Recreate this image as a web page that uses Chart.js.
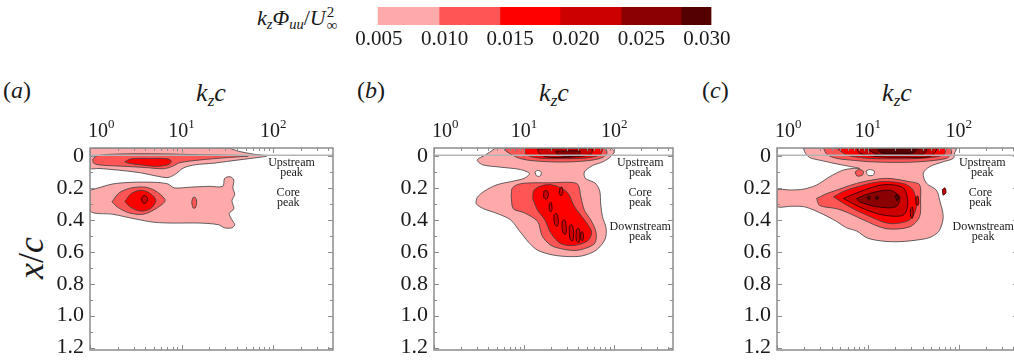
<!DOCTYPE html>
<html>
<head>
<meta charset="utf-8">
<script src="https://cdn.jsdelivr.net/npm/chart.js@4.4.1/dist/chart.umd.min.js"></script>
<style>
  body { margin: 0; width: 1014px; height: 360px; overflow: hidden; background: #fff; font-family: "Liberation Serif", serif; }
  canvas { position: absolute; }
  .t { position: absolute; white-space: nowrap; line-height: 1; color: #1a1a1a; }
  .t sub { font-size: 0.66em; line-height: 0; vertical-align: -0.3em; }
  .ss { display: inline-block; font-size: 15px; line-height: 13px; vertical-align: -5px; margin-left: 1px; }
  .ss span { display: block; }
</style>
</head>
<body>
<div class="t" style="left:257px;top:6px;font-size:22px"><i>k</i><sub><i>z</i></sub><i>Φ</i><sub><i>uu</i></sub>/<i>U</i><span class="ss"><span>2</span><span>∞</span></span></div>
<canvas id="colorbar" width="410" height="60" style="left:340px;top:0px"></canvas>

<div class="t" style="left:3px;top:78px;font-size:24px">(<i>a</i>)</div>
<div class="t" style="left:357px;top:78px;font-size:24px">(<i>b</i>)</div>
<div class="t" style="left:702px;top:78px;font-size:24px">(<i>c</i>)</div>

<div class="t" style="left:211px;top:80px;font-size:26px;transform:translateX(-50%)"><i>k</i><sub><i>z</i></sub><i>c</i></div>
<div class="t" style="left:554px;top:80px;font-size:26px;transform:translateX(-50%)"><i>k</i><sub><i>z</i></sub><i>c</i></div>
<div class="t" style="left:897px;top:80px;font-size:26px;transform:translateX(-50%)"><i>k</i><sub><i>z</i></sub><i>c</i></div>

<div class="t" style="left:31px;top:258px;font-size:36px;transform:translate(-50%,-50%) rotate(-90deg)"><i>x</i>/<i>c</i></div>

<canvas id="panelA" width="309" height="258" style="left:30px;top:108px"></canvas>
<canvas id="panelB" width="305" height="258" style="left:374px;top:108px"></canvas>
<canvas id="panelC" width="307" height="258" style="left:717px;top:108px"></canvas>

<script>
// contour level colours (index 0 = white hole), same as the colour bar
const levelColors = ["#ffffff", "#ffaaaa", "#ff5555", "#ff0000", "#cc0000", "#8b0000", "#550000"];
const colorbarEdges = [0.00493, 0.00958, 0.01422, 0.0188, 0.02345, 0.02802, 0.03031];
const colorbarTicks = [0.005, 0.010, 0.015, 0.020, 0.025, 0.030];

const xTicks = [1, 10, 100];
const xMinorTicks = [2, 3, 4, 5, 6, 7, 8, 9, 20, 30, 40, 50, 60, 70, 80, 90, 200, 300, 400];
const yTicks = [0, 0.2, 0.4, 0.6, 0.8, 1.0, 1.2];
const yMinorTicks = [0.1, 0.3, 0.5, 0.7, 0.9, 1.1];

// contour regions: [log10(kz c), x/c] outlines, drawn bottom to top
const panelA = [
  { level: 1, pts: [[0,-0.05],[0.5,-0.05],[1.0,-0.05],[1.5,-0.05],[1.62,-0.03],[1.78,-0.012],[1.93,0.0],[1.8,0.012],[1.55,0.03],[1.35,0.045],[1.15,0.055],[1.02,0.075],[0.93,0.115],[0.85,0.135],[0.72,0.125],[0.55,0.105],[0.3,0.088],[0.1,0.078],[0,0.075]] },
  { level: 2, pts: [[0.03,0.02],[0.08,-0.002],[0.3,-0.012],[0.6,-0.014],[0.9,-0.012],[1.2,-0.008],[1.5,-0.005],[1.73,0.0],[1.5,0.01],[1.2,0.025],[0.98,0.042],[0.9,0.065],[0.8,0.08],[0.6,0.072],[0.35,0.064],[0.12,0.057],[0.04,0.045]] },
  { level: 3, pts: [[0.38,0.035],[0.45,0.018],[0.65,0.015],[0.85,0.018],[0.89,0.035],[0.85,0.055],[0.72,0.065],[0.55,0.055],[0.42,0.045]] },
  { level: 1, pts: [[0,0.215],[0.12,0.195],[0.25,0.175],[0.45,0.165],[0.7,0.165],[0.85,0.175],[0.92,0.2],[1.1,0.195],[1.3,0.19],[1.45,0.19],[1.47,0.14],[1.53,0.13],[1.57,0.15],[1.56,0.2],[1.58,0.24],[1.55,0.28],[1.57,0.33],[1.52,0.36],[1.55,0.4],[1.58,0.43],[1.55,0.45],[1.47,0.45],[1.4,0.43],[1.2,0.42],[0.9,0.42],[0.7,0.415],[0.5,0.395],[0.25,0.365],[0,0.345]] },
  { level: 2, pts: [[0.24,0.287],[0.32,0.23],[0.45,0.2],[0.6,0.195],[0.72,0.22],[0.82,0.278],[0.72,0.33],[0.58,0.365],[0.42,0.355],[0.3,0.32]] },
  { level: 3, pts: [[0.38,0.285],[0.45,0.235],[0.56,0.215],[0.66,0.235],[0.72,0.28],[0.66,0.33],[0.55,0.345],[0.44,0.32]] },
  { level: 4, pts: [[0.56,0.27],[0.58,0.25],[0.61,0.25],[0.63,0.27],[0.61,0.295],[0.58,0.295]] },
  { level: 2, pts: [[1.11,0.29],[1.125,0.26],[1.15,0.26],[1.165,0.29],[1.15,0.325],[1.125,0.325]] }
];

const panelB = [
  { level: 1, pts: [[0.685,-0.05],[1.2,-0.05],[1.6,-0.05],[1.955,-0.05],[2.0,-0.03],[1.97,0.0],[1.88,0.035],[1.76,0.06],[1.67,0.1],[1.68,0.14],[1.79,0.17],[1.84,0.22],[1.85,0.3],[1.87,0.38],[1.91,0.45],[1.9,0.52],[1.8,0.59],[1.65,0.625],[1.5,0.63],[1.32,0.62],[1.15,0.59],[1.05,0.54],[0.95,0.47],[0.85,0.4],[0.7,0.36],[0.55,0.33],[0.47,0.3],[0.48,0.26],[0.56,0.22],[0.7,0.18],[0.86,0.16],[1.0,0.14],[1.06,0.11],[0.96,0.085],[0.74,0.07],[0.54,0.055],[0.48,0.025],[0.57,-0.006]] },
  { level: 0, pts: [[1.12,0.1],[1.15,0.09],[1.19,0.1],[1.18,0.125],[1.14,0.125]] },
  { level: 2, pts: [[0.78,-0.05],[1.89,-0.05],[1.92,-0.017],[1.86,0.012],[1.7,0.03],[1.41,0.038],[1.1,0.03],[0.95,0.015],[0.87,-0.006],[0.8,-0.03]] },
  { level: 3, pts: [[1.0,-0.05],[1.86,-0.05],[1.85,-0.01],[1.7,0.012],[1.4,0.017],[1.15,0.012],[1.02,-0.01]] },
  { level: 4, pts: [[1.15,-0.045],[1.75,-0.045],[1.74,-0.01],[1.5,0.008],[1.25,0.006],[1.17,-0.015]] },
  { level: 5, pts: [[1.35,-0.03],[1.62,-0.03],[1.6,-0.005],[1.45,0.002],[1.37,-0.01]] },
  { level: 2, pts: [[0.857,0.25],[0.87,0.2],[0.95,0.175],[1.11,0.168],[1.3,0.168],[1.52,0.165],[1.6,0.18],[1.63,0.256],[1.67,0.34],[1.74,0.4],[1.8,0.48],[1.78,0.55],[1.6,0.59],[1.45,0.585],[1.3,0.56],[1.2,0.5],[1.15,0.41],[1.0,0.355],[0.88,0.33]] },
  { level: 3, pts: [[1.095,0.266],[1.11,0.214],[1.2,0.185],[1.3,0.18],[1.41,0.2],[1.49,0.235],[1.56,0.318],[1.67,0.4],[1.75,0.475],[1.71,0.53],[1.56,0.56],[1.41,0.55],[1.3,0.486],[1.23,0.4],[1.15,0.34]] },
  { level: 4, pts: [[1.22,0.22],[1.25,0.215],[1.27,0.24],[1.25,0.27],[1.22,0.26]] },
  { level: 4, pts: [[1.28,0.3],[1.3,0.29],[1.31,0.33],[1.3,0.35],[1.28,0.34]] },
  { level: 4, pts: [[1.33,0.37],[1.36,0.36],[1.38,0.4],[1.37,0.44],[1.34,0.43]] },
  { level: 4, pts: [[1.42,0.41],[1.45,0.40],[1.47,0.45],[1.46,0.49],[1.43,0.48]] },
  { level: 4, pts: [[1.5,0.44],[1.53,0.43],[1.55,0.48],[1.54,0.53],[1.51,0.52]] },
  { level: 4, pts: [[1.58,0.46],[1.61,0.455],[1.62,0.5],[1.61,0.54],[1.58,0.53]] },
  { level: 4, pts: [[1.63,0.48],[1.65,0.475],[1.66,0.51],[1.65,0.53],[1.63,0.52]] },
  { level: 4, pts: [[1.4,0.2],[1.42,0.195],[1.43,0.23],[1.41,0.25],[1.39,0.23]] }
];

const panelC = [
  { level: 1, pts: [[0.29,-0.05],[1.0,-0.05],[1.5,-0.05],[1.975,-0.05],[1.956,-0.02],[1.94,0.015],[1.83,0.036],[1.68,0.067],[1.61,0.109],[1.645,0.17],[1.755,0.214],[1.79,0.276],[1.83,0.38],[1.79,0.465],[1.72,0.5],[1.645,0.517],[1.4,0.535],[1.2,0.535],[1.0,0.515],[0.877,0.47],[0.766,0.45],[0.656,0.41],[0.47,0.355],[0.3,0.318],[0.15,0.315],[0,0.315],[0,0.215],[0.15,0.213],[0.29,0.208],[0.436,0.182],[0.58,0.13],[0.73,0.088],[0.84,0.078],[0.91,0.078],[0.8,0.065],[0.66,0.05],[0.5,0.03],[0.36,0.01],[0.31,-0.02]] },
  { level: 0, pts: [[0.98,0.095],[1.02,0.085],[1.07,0.095],[1.06,0.12],[1.0,0.12]] },
  { level: 2, pts: [[0.86,0.1],[0.9,0.085],[0.95,0.095],[0.94,0.12],[0.88,0.125]] },
  { level: 4, pts: [[1.82,0.21],[1.85,0.2],[1.86,0.23],[1.83,0.245]] },
  { level: 2, pts: [[0.51,-0.05],[1.9,-0.05],[1.92,-0.017],[1.865,0.015],[1.57,0.036],[1.3,0.04],[1.02,0.036],[0.8,0.025],[0.656,0.015],[0.55,-0.01]] },
  { level: 3, pts: [[0.656,-0.05],[1.85,-0.05],[1.83,-0.006],[1.57,0.015],[1.3,0.018],[1.02,0.015],[0.8,0.0],[0.73,-0.017]] },
  { level: 4, pts: [[0.876,-0.05],[1.755,-0.05],[1.68,0.004],[1.4,0.008],[1.1,0.004],[0.91,-0.017]] },
  { level: 5, pts: [[0.986,-0.05],[1.645,-0.05],[1.61,-0.01],[1.35,-0.005],[1.1,-0.01]] },
  { level: 6, pts: [[1.1,-0.05],[1.535,-0.05],[1.5,-0.02],[1.3,-0.015],[1.15,-0.02]] },
  { level: 2, pts: [[0.436,0.266],[0.55,0.235],[0.656,0.214],[0.8,0.185],[0.95,0.161],[1.205,0.14],[1.46,0.161],[1.57,0.18],[1.58,0.276],[1.57,0.38],[1.46,0.444],[1.2,0.455],[0.95,0.40],[0.8,0.36],[0.656,0.33],[0.47,0.31]] },
  { level: 3, pts: [[0.62,0.256],[0.72,0.225],[0.84,0.2],[1.13,0.161],[1.39,0.172],[1.5,0.214],[1.535,0.318],[1.46,0.40],[1.24,0.423],[0.986,0.37],[0.766,0.308]] },
  { level: 4, pts: [[1.47,0.33],[1.49,0.32],[1.5,0.36],[1.49,0.39],[1.47,0.38]] },
  { level: 4, pts: [[1.53,0.26],[1.55,0.25],[1.56,0.29],[1.55,0.31],[1.53,0.3]] },
  { level: 4, pts: [[0.73,0.266],[0.91,0.224],[1.17,0.18],[1.39,0.2],[1.44,0.297],[1.39,0.37],[1.17,0.37],[0.95,0.33]] },
  { level: 5, pts: [[0.876,0.266],[1.02,0.235],[1.24,0.214],[1.35,0.256],[1.31,0.318],[1.1,0.318],[0.91,0.287]] },
  { level: 6, pts: [[0.99,0.26],[1.01,0.25],[1.03,0.26],[1.01,0.275]] },
  { level: 6, pts: [[1.08,0.26],[1.1,0.25],[1.12,0.26],[1.1,0.275]] },
  { level: 6, pts: [[1.3,0.25],[1.32,0.24],[1.34,0.26],[1.32,0.28]] }
];

// peak labels: text lines, log10(kz c), x/c of the label centre
const notesA = [
  { lines: ["Upstream", "peak"], lk: 2.2, y: 0.075 },
  { lines: ["Core", "peak"], lk: 2.165, y: 0.264 }
];
const notesB = [
  { lines: ["Upstream", "peak"], lk: 2.29, y: 0.075 },
  { lines: ["Core", "peak"], lk: 2.29, y: 0.264 },
  { lines: ["Downstream", "peak"], lk: 2.29, y: 0.477 }
];
const notesC = [
  { lines: ["Upstream", "peak"], lk: 2.26, y: 0.075 },
  { lines: ["Core", "peak"], lk: 2.24, y: 0.264 },
  { lines: ["Downstream", "peak"], lk: 2.27, y: 0.477 }
];

const serif = '"Liberation Serif", serif';

const framePlugin = {
  id: "frame",
  afterDatasetsDraw(chart) {
    const { ctx, chartArea: a, scales: { x, y } } = chart;
    ctx.save();
    // grey line at x/c = 0
    const y0 = y.getPixelForValue(-0.005);
    ctx.strokeStyle = "#b4b4b4";
    ctx.lineWidth = 1.5;
    ctx.beginPath();
    ctx.moveTo(a.left, y0);
    ctx.lineTo(a.right, y0);
    ctx.stroke();

    // inward ticks on all four sides
    ctx.strokeStyle = "#8c8c8c";
    ctx.lineWidth = 1;
    ctx.beginPath();
    xTicks.concat(xMinorTicks).forEach((v) => {
      const px = Math.round(x.getPixelForValue(v)) + 0.5;
      const len = xTicks.includes(v) ? 5 : 3;
      ctx.moveTo(px, a.top); ctx.lineTo(px, a.top + len);
      ctx.moveTo(px, a.bottom); ctx.lineTo(px, a.bottom - len);
    });
    yTicks.concat(yMinorTicks).forEach((v) => {
      const py = Math.round(y.getPixelForValue(v)) + 0.5;
      const len = yTicks.includes(v) ? 5 : 3;
      ctx.moveTo(a.left, py); ctx.lineTo(a.left + len, py);
      ctx.moveTo(a.right, py); ctx.lineTo(a.right - len, py);
    });
    ctx.stroke();

    ctx.strokeStyle = "#8c8c8c";
    ctx.lineWidth = 1.5;
    ctx.strokeRect(a.left, a.top, a.right - a.left, a.bottom - a.top);
    ctx.restore();
  },
  afterDraw(chart, args, opts) {
    const { ctx, chartArea: a, scales: { x, y } } = chart;
    ctx.save();
    ctx.fillStyle = "#1a1a1a";
    ctx.textAlign = "left";
    ctx.textBaseline = "alphabetic";
    // 10^n labels above the frame
    xTicks.forEach((v) => {
      const exp = String(Math.round(Math.log10(v)));
      ctx.font = "20px " + serif;
      const wb = ctx.measureText("10").width;
      ctx.font = "13px " + serif;
      const we = ctx.measureText(exp).width;
      let left = x.getPixelForValue(v) - (wb + we) / 2;
      left = Math.max(left, a.left - 2);
      ctx.font = "20px " + serif;
      ctx.fillText("10", left, a.top - 11);
      ctx.font = "13px " + serif;
      ctx.fillText(exp, left + wb, a.top - 20);
    });
    // peak labels
    ctx.font = "12px " + serif;
    ctx.textAlign = "center";
    ctx.textBaseline = "middle";
    (opts.notes || []).forEach((n) => {
      const cx = x.getPixelForValue(Math.pow(10, n.lk));
      const cy = y.getPixelForValue(n.y);
      n.lines.forEach((line, i) => {
        ctx.fillText(line, cx, cy + (i - (n.lines.length - 1) / 2) * 10);
      });
    });
    ctx.restore();
  }
};

function makePanel(id, regions, notes) {
  const datasets = regions.map((r, i) => ({
    data: r.pts.concat([r.pts[0]]).map((p) => ({ x: Math.pow(10, p[0]), y: p[1] })),
    showLine: true,
    fill: "shape",
    backgroundColor: levelColors[r.level],
    borderColor: r.level >= 4 ? "#1a0000" : "#3c3c3c",
    borderWidth: 0.8,
    pointRadius: 0,
    tension: 0.3,
    order: -i
  }));

  new Chart(document.getElementById(id), {
    type: "scatter",
    data: { datasets },
    options: {
      responsive: false,
      animation: false,
      events: [],
      layout: { padding: { top: 40, right: 6, bottom: 16, left: 0 } },
      plugins: {
        legend: { display: false },
        tooltip: { enabled: false },
        frame: { notes }
      },
      scales: {
        x: { type: "logarithmic", min: 1, max: 450, display: false },
        y: {
          type: "linear",
          reverse: true,
          min: -0.05,
          max: 1.215,
          afterBuildTicks: (s) => { s.ticks = yTicks.map((v) => ({ value: v })); },
          afterFit: (s) => { s.width = 60; s.paddingTop = 0; s.paddingBottom = 0; },
          grid: { display: false, drawTicks: false },
          border: { display: false },
          ticks: {
            autoSkip: false,
            padding: 6,
            color: "#1a1a1a",
            font: { family: serif, size: 22 },
            callback: (v) => (v === 0 ? "0" : v.toFixed(1))
          }
        }
      }
    },
    plugins: [framePlugin]
  });
}

makePanel("panelA", panelA, notesA);
makePanel("panelB", panelB, notesB);
makePanel("panelC", panelC, notesC);

// colour bar
new Chart(document.getElementById("colorbar"), {
  type: "bar",
  data: {
    labels: [""],
    datasets: colorbarEdges.slice(0, -1).map((e, i) => ({
      data: [[e, colorbarEdges[i + 1]]],
      backgroundColor: levelColors[i + 1],
      borderWidth: 0,
      barPercentage: 1,
      categoryPercentage: 1,
      grouped: false
    }))
  },
  options: {
    indexAxis: "y",
    responsive: false,
    animation: false,
    events: [],
    layout: { padding: { top: 7, left: 0, right: 0, bottom: 0 } },
    plugins: { legend: { display: false }, tooltip: { enabled: false } },
    scales: {
      y: { display: false },
      x: {
        type: "linear",
        min: 0.00203,
        max: 0.03328,
        afterBuildTicks: (s) => { s.ticks = colorbarTicks.map((v) => ({ value: v })); },
        afterFit: (s) => { s.height = 35; s.paddingLeft = 0; s.paddingRight = 0; },
        grid: { display: false, drawTicks: false },
        border: { display: false },
        ticks: {
          autoSkip: false,
          maxRotation: 0,
          padding: 2,
          color: "#1a1a1a",
          font: { family: serif, size: 21 },
          callback: (v) => v.toFixed(3)
        }
      }
    }
  }
});
</script>
</body>
</html>
